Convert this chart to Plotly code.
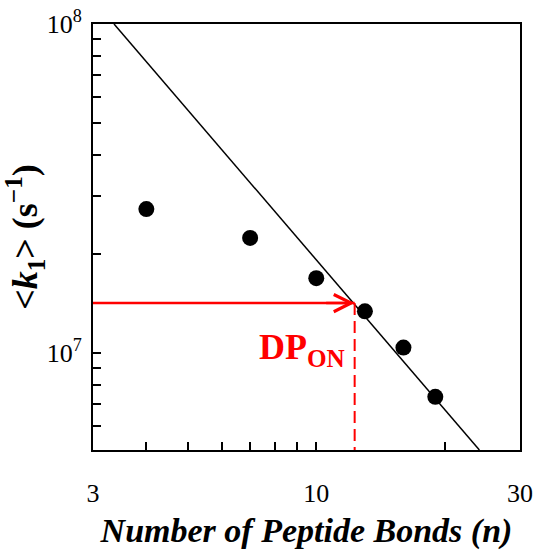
import numpy as np
import plotly.graph_objects as go

# ---- data ----
n_bonds = [4, 7, 10, 13, 16, 19]
k1_mean = [2.74e7, 2.24e7, 1.69e7, 1.34e7, 1.04e7, 7.37e6]

fit_n = [3.36, 24.1]
fit_k = [1.0e8, 5.08e6]

dp_on = 12.3
k_on = 1.42e7

x_range = [3, 30]
y_range = [5.08e6, 1.0e8]

x_tickvals = [3, 4, 5, 6, 7, 8, 9, 10, 20, 30]
x_ticktext = ["3", "", "", "", "", "", "", "10", "", "30"]
y_tickvals = [5e6, 6e6, 7e6, 8e6, 9e6, 1e7, 2e7, 3e7, 4e7, 5e7, 6e7, 7e7, 8e7, 9e7, 1e8]
y_ticktext = ["", "", "", "", "", "10<sup>7</sup>", "", "", "", "", "", "", "", "", "10<sup>8</sup>"]

FONT = "Liberation Serif"
RED = "#ff0000"

fig = go.Figure()

# fitted power-law line
fig.add_trace(go.Scatter(x=fit_n, y=fit_k, mode="lines",
                         line=dict(color="black", width=1.5),
                         hoverinfo="skip", showlegend=False))

# red horizontal arrow shaft
fig.add_trace(go.Scatter(x=[x_range[0], dp_on], y=[k_on, k_on], mode="lines",
                         line=dict(color=RED, width=2.5),
                         hoverinfo="skip", showlegend=False))

# red vertical dashed line
fig.add_trace(go.Scatter(x=[dp_on, dp_on], y=[k_on, y_range[0]], mode="lines",
                         line=dict(color=RED, width=2, dash="12px,6px"),
                         hoverinfo="skip", showlegend=False))

# data points
fig.add_trace(go.Scatter(x=n_bonds, y=k1_mean, mode="markers",
                         marker=dict(color="black", size=16, line=dict(width=0)),
                         showlegend=False))

# arrowhead
fig.add_annotation(x=np.log10(dp_on), y=np.log10(k_on), xref="x", yref="y",
                   ax=-30, ay=0, text="", showarrow=True,
                   arrowhead=5, arrowsize=1.35, arrowwidth=2.5, arrowcolor=RED,
                   standoff=0)

# DP_ON label
fig.add_annotation(x=np.log10(dp_on), y=np.log10(k_on), xref="x", yref="y",
                   text="<b>DP<sub>ON</sub></b>", showarrow=False,
                   xanchor="right", yanchor="top", xshift=-8, yshift=-22,
                   font=dict(family=FONT, size=36, color=RED))

axis_common = dict(
    type="log", showline=True, mirror=True, linecolor="black", linewidth=2,
    ticks="inside", ticklen=8, tickwidth=2, tickcolor="black",
    showgrid=False, zeroline=False, tickmode="array", automargin=False,
    tickfont=dict(family=FONT, size=26, color="black"),
)

fig.update_layout(
    width=538, height=550,
    margin=dict(l=93, r=18, t=24, b=100),
    paper_bgcolor="white", plot_bgcolor="white",
    font=dict(family=FONT, color="black"),
    xaxis=dict(**axis_common,
               range=[np.log10(x_range[0]), np.log10(x_range[1])],
               tickvals=x_tickvals, ticktext=x_ticktext,
               ticklabelstandoff=19,
               title=dict(text="<b><i>Number of Peptide Bonds (n)</i></b>",
                          font=dict(family=FONT, size=34, color="black"),
                          standoff=17)),
    yaxis=dict(**axis_common,
               range=[np.log10(y_range[0]), np.log10(y_range[1])],
               tickvals=y_tickvals, ticktext=y_ticktext,
               ticklabelstandoff=4,
               title=dict(text="<b>&lt;<i>k</i><sub>1</sub>&gt; (s<sup>\u22121</sup>)</b>",
                          font=dict(family=FONT, size=36, color="black"),
                          standoff=8)),
)

fig.write_html("out.html",
               config={"displayModeBar": False},
               post_script="document.body.style.margin='0';document.body.style.overflow='hidden';")
